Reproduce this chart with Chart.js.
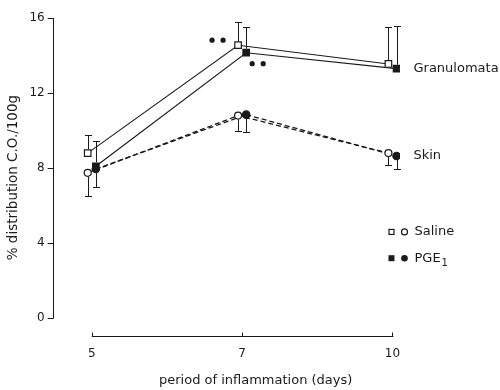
<!DOCTYPE html>
<html><head><meta charset="utf-8">
<script src="https://cdn.jsdelivr.net/npm/chart.js@4.4.1/dist/chart.umd.min.js"></script>
<style>html,body{margin:0;padding:0;background:#fff}#wrap{width:500px;height:390px}</style>
</head><body><div id="wrap"><canvas id="c" width="500" height="390"></canvas></div>
<script>
const days = ['5', '7', '10'];
const dayIndex = [0, 1, 2];
const yTicks = [0, 4, 8, 12, 16];
const xTitle = 'period of inflammation (days)';
const yTitle = '% distribution C.O./100g';
// mean values (% distribution C.O./100g)
const granSaline = [8.8, 14.55, 13.55];
const granPGE = [8.1, 14.15, 13.3];
const skinSaline = [7.75, 10.8, 8.8];
const skinPGE = [7.95, 10.85, 8.65];
// error bar tips (upper for granulomata, lower for skin)
const granSalineErr = [9.75, 15.8, 15.5];
const granPGEErr = [9.45, 15.5, 15.55];
const skinSalineErr = [6.5, 10.0, 8.15];
const skinPGEErr = [7.0, 9.9, 7.95];

const SHIFT = 0.027; // horizontal offset between Saline and PGE1 markers
const pts = (vals, err, dx) => vals.map((v, i) => ({x: dayIndex[i] + dx, y: v, e: err[i]}));
const FONT = 'DejaVu Sans';
const INK = '#1a1a1a';

const overlay = {
  id: 'overlay',
  beforeDatasetsDraw(chart) {
    const ctx = chart.ctx, xs = chart.scales.x, ys = chart.scales.y;
    ctx.save();
    ctx.strokeStyle = INK; ctx.lineWidth = 1;
    // y axis line from 0 to top tick
    const xl = Math.round(xs.left) + 0.5;
    ctx.beginPath();
    ctx.moveTo(xl, ys.getPixelForValue(yTicks[yTicks.length - 1]));
    ctx.lineTo(xl, ys.getPixelForValue(yTicks[0]) + 0.5);
    ctx.stroke();
    // x axis line with upward ticks, at the bottom of the chart area
    const yAx = Math.round(chart.chartArea.bottom) - 0.5;
    ctx.beginPath();
    ctx.moveTo(xs.getPixelForValue(dayIndex[0]), yAx);
    ctx.lineTo(xs.getPixelForValue(dayIndex[2]) + 1, yAx);
    dayIndex.forEach(d => {
      const x = Math.round(xs.getPixelForValue(d)) + 0.5;
      ctx.moveTo(x, yAx); ctx.lineTo(x, yAx - 4);
    });
    ctx.stroke();
    // x axis title
    ctx.fillStyle = INK;
    ctx.font = '13px "' + FONT + '"';
    ctx.textAlign = 'center'; ctx.textBaseline = 'middle';
    ctx.fillText(xTitle, xs.getPixelForValue(1.09), 381);
    ctx.restore();
  },
  afterDatasetsDraw(chart) {
    const ctx = chart.ctx, xs = chart.scales.x, ys = chart.scales.y;
    ctx.save();
    ctx.strokeStyle = INK; ctx.fillStyle = INK; ctx.lineWidth = 1;
    // error bars
    chart.data.datasets.forEach(ds => {
      ds.data.forEach(p => {
        const x = Math.round(xs.getPixelForValue(p.x)) + 0.5, y0 = ys.getPixelForValue(p.y), y1 = Math.round(ys.getPixelForValue(p.e)) + 0.5;
        const start = y1 < y0 ? y0 - 4 : y0 + 4;
        ctx.beginPath();
        ctx.moveTo(x, start); ctx.lineTo(x, y1);
        ctx.moveTo(x - 3.5, y1); ctx.lineTo(x + 3.5, y1);
        ctx.stroke();
      });
    });
    // significance markers (**)
    const gs = chart.getDatasetMeta(0).data[1], gp = chart.getDatasetMeta(1).data[1];
    [[-26, -5], [-15, -5]].forEach(([dx, dy]) => { ctx.beginPath(); ctx.arc(gs.x + dx, gs.y + dy, 2.6, 0, Math.PI * 2); ctx.fill(); });
    [[6, 11], [17, 11]].forEach(([dx, dy]) => { ctx.beginPath(); ctx.arc(gp.x + dx, gp.y + dy, 2.6, 0, Math.PI * 2); ctx.fill(); });
    // series labels
    ctx.font = '13px "' + FONT + '"';
    ctx.textBaseline = 'middle'; ctx.textAlign = 'left';
    const tx = xs.getPixelForValue(dayIndex[2]) + 21;
    const gl = chart.getDatasetMeta(1).data[2];
    ctx.fillText('Granulomata', tx, gl.y);
    const sl = chart.getDatasetMeta(2).data[2];
    ctx.fillText('Skin', tx, sl.y + 3);
    // legend
    const ly1 = ys.getPixelForValue(4.6), ly2 = ys.getPixelForValue(3.2);
    const sx = tx - 22;
    ctx.lineWidth = 1.2;
    ctx.strokeRect(sx - 2.5, ly1 - 2.5, 5, 5);
    ctx.beginPath(); ctx.arc(sx + 13, ly1, 3, 0, Math.PI * 2); ctx.stroke();
    ctx.fillText('Saline', sx + 23, ly1);
    ctx.fillRect(sx - 3, ly2 - 3, 6, 6);
    ctx.beginPath(); ctx.arc(sx + 13, ly2, 3.3, 0, Math.PI * 2); ctx.fill();
    ctx.fillText('PGE', sx + 23, ly2);
    const w = ctx.measureText('PGE').width;
    ctx.font = '10px "' + FONT + '"';
    ctx.fillText('1', sx + 24 + w, ly2 + 5);
    ctx.restore();
  }
};

const common = {showLine: true, borderColor: INK, pointBorderColor: INK, pointBorderWidth: 1.2};
new Chart(document.getElementById('c'), {
  type: 'scatter',
  data: {
    datasets: [
      Object.assign({}, common, {label: 'Granulomata Saline', data: pts(granSaline, granSalineErr, -SHIFT), borderWidth: 1.1,
        pointStyle: 'rect', pointRadius: 4.6, pointBackgroundColor: '#fff'}),
      Object.assign({}, common, {label: 'Granulomata PGE1', data: pts(granPGE, granPGEErr, SHIFT), borderWidth: 1.1,
        pointStyle: 'rect', pointRadius: 4.6, pointBackgroundColor: INK}),
      Object.assign({}, common, {label: 'Skin Saline', data: pts(skinSaline, skinSalineErr, -SHIFT), borderWidth: 1.3, borderDash: [5, 3],
        pointStyle: 'circle', pointRadius: 3.5, pointBackgroundColor: '#fff'}),
      Object.assign({}, common, {label: 'Skin PGE1', data: pts(skinPGE, skinPGEErr, SHIFT), borderWidth: 1.3, borderDash: [5, 3],
        pointStyle: 'circle', pointRadius: 3.7, pointBackgroundColor: INK})
    ]
  },
  options: {
    responsive: false, animation: false,
    layout: {padding: {left: 5.6, right: 100, top: 18, bottom: 20.4}},
    plugins: {legend: {display: false}, tooltip: {enabled: false}},
    scales: {
      x: {
        type: 'linear', min: -0.26, max: 2.05,
        afterBuildTicks: s => { s.ticks = dayIndex.map(v => ({value: v})); },
        ticks: {callback: v => days[dayIndex.indexOf(v)] ?? '', color: INK, font: {family: FONT, size: 12}, padding: 9, maxRotation: 0},
        grid: {display: false, drawTicks: false}, border: {display: false},
        title: {display: false}
      },
      y: {
        min: -1.01, max: 16,
        afterBuildTicks: s => { s.ticks = yTicks.map(v => ({value: v})); },
        ticks: {color: INK, font: {family: FONT, size: 12}, padding: 3},
        grid: {drawOnChartArea: false, drawTicks: true, tickLength: 5, color: INK},
        border: {display: false},
        title: {display: true, text: yTitle, color: INK, font: {family: FONT, size: 13.5}, padding: {top: 0, bottom: 4.6}}
      }
    }
  },
  plugins: [overlay]
});
</script></body></html>
